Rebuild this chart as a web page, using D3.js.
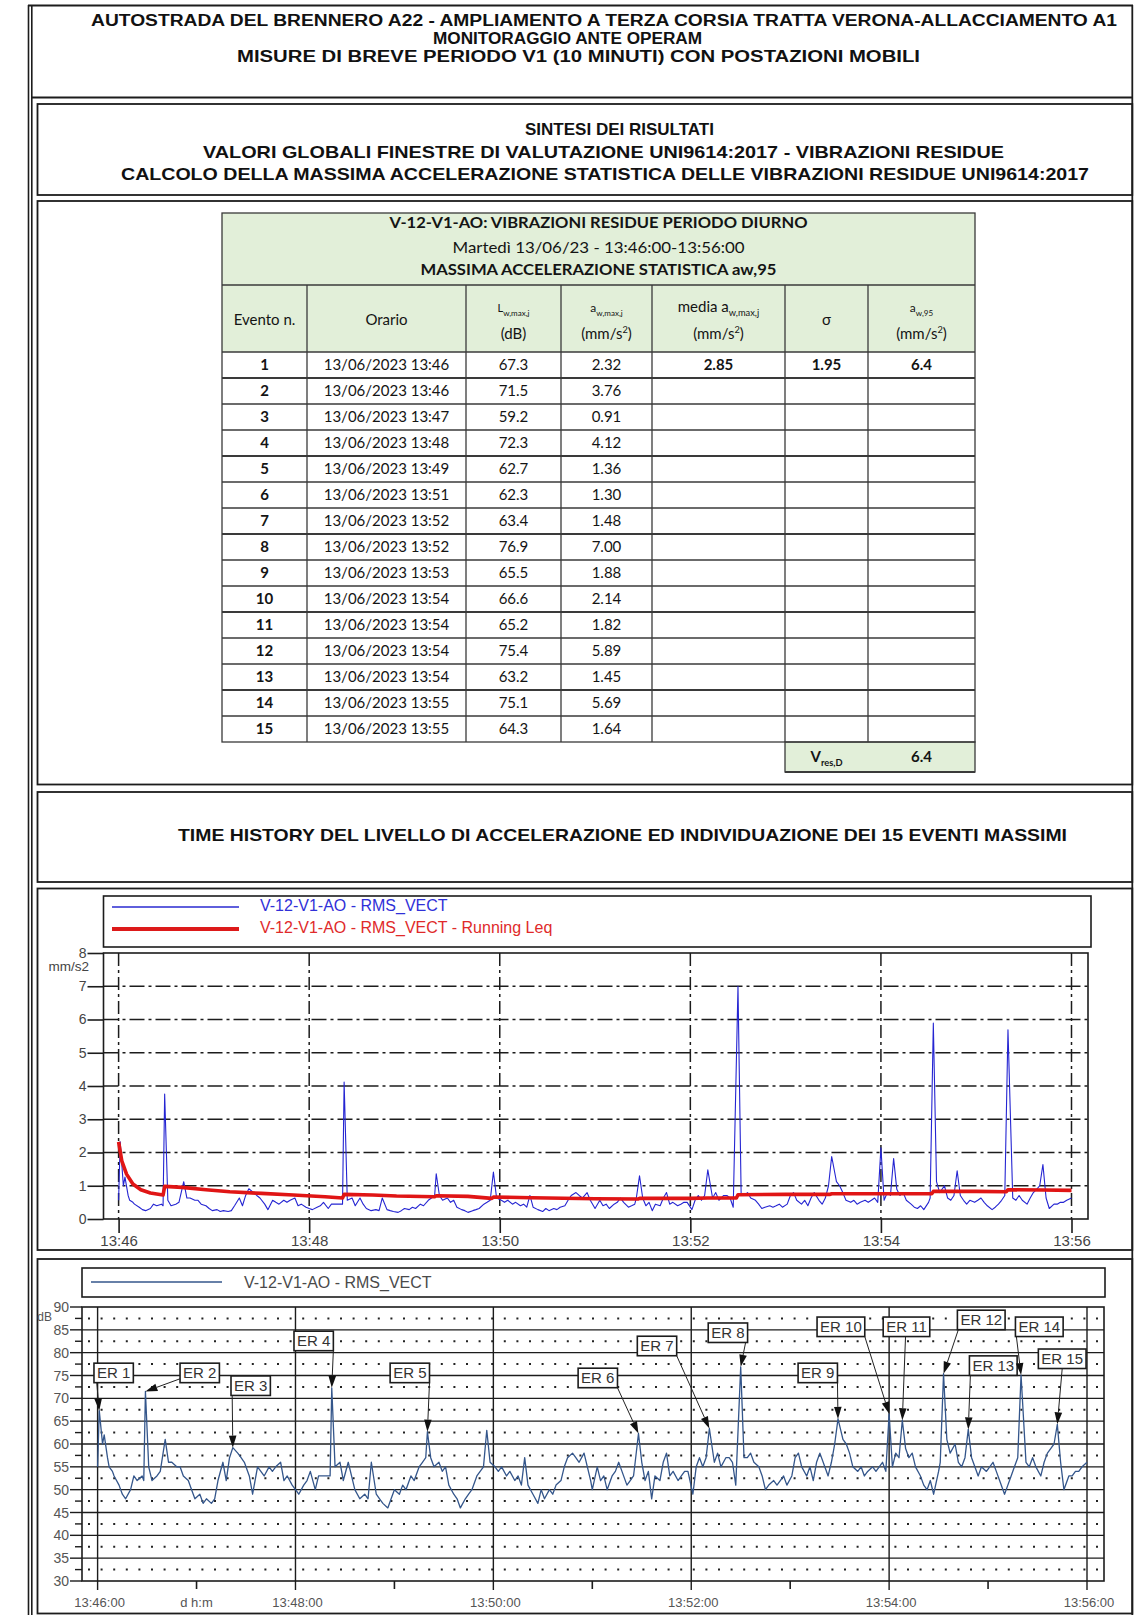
<!DOCTYPE html>
<html>
<head>
<meta charset="utf-8">
<title>V-12-V1-AO – Vibrazioni residue periodo diurno</title>
<script src="https://cdn.jsdelivr.net/npm/d3@7/dist/d3.min.js"></script>
<style>
  html, body { margin: 0; padding: 0; background: #fff; }
  svg { display: block; }
  text { font-family: "Liberation Sans", Arial, sans-serif; }
  .tbl text { font-family: Lato, "Open Sans", sans-serif; }
</style>
</head>
<body>
<svg id="page" width="1135" height="1615"></svg>
<script>
// ---------------- Event table (UNI 9614:2017) ----------------
const eventNo   = [1, 2, 3, 4, 5, 6, 7, 8, 9, 10, 11, 12, 13, 14, 15];
const eventTime = ["13/06/2023 13:46", "13/06/2023 13:46", "13/06/2023 13:47", "13/06/2023 13:48",
                   "13/06/2023 13:49", "13/06/2023 13:51", "13/06/2023 13:52", "13/06/2023 13:52",
                   "13/06/2023 13:53", "13/06/2023 13:54", "13/06/2023 13:54", "13/06/2023 13:54",
                   "13/06/2023 13:54", "13/06/2023 13:55", "13/06/2023 13:55"];
const eventLw   = [67.3, 71.5, 59.2, 72.3, 62.7, 62.3, 63.4, 76.9, 65.5, 66.6, 65.2, 75.4, 63.2, 75.1, 64.3];
const eventAw   = [2.32, 3.76, 0.91, 4.12, 1.36, 1.30, 1.48, 7.00, 1.88, 2.14, 1.82, 5.89, 1.45, 5.69, 1.64];
// seconds after 13:46:00 at which each event peak occurs
const eventSec  = [1, 29, 82, 142, 200, 328, 371, 390, 449, 480, 488, 513, 528, 560, 582];
const meanAw = 2.85, sigmaAw = 1.95, aw95 = 6.4, vResD = 6.4;

// ---------------- Time history RMS_VECT (dB re 1e-6 m/s2), between the event peaks ----------------
const rmsVect = [
  [0,55],[3,60],[4,62],[6,57],[7,55],[9,54],[10,53],[13,51],[15,49],[17,48],[20,50],[22,53],[24,52],[27,53],[28,52],
  [31,55],[33,52],[36,53],[38,54],[41,61],[43,56],[45,56],[48,55],[50,55],[52,53],[55,52],[57,50],[59,48],[62,49],
  [64,47],[66,48],[69,47],[71,48],[73,52],[76,56],[78,52],[80,57],[85,58],[87,57],[89,56],[92,53],[94,49],[97,55],
  [99,54],[101,53],[104,55],[106,54],[108,55],[111,56],[113,52],[115,53],[118,51],[120,50],[122,49],[125,51],
  [127,52],[129,54],[132,50],[134,53],[137,53],[139,53],[141,53],[144,55],[147,56],[149,52],[152,56],[154,53],
  [156,50],[159,48],[162,49],[164,48],[166,56],[169,49],[171,48],[173,47],[176,46],[178,48],[180,50],[183,49],
  [185,51],[187,50],[190,53],[192,52],[195,55],[197,56],[199,57],[202,57],[204,55],[207,56],[209,54],[211,55],
  [213,51],[216,49],[218,48],[220,46],[223,48],[225,49],[227,50],[230,53],[232,54],[234,55],[236,63],[238,56],
  [241,55],[243,54],[245,55],[248,53],[250,54],[253,52],[255,53],[257,51],[259,57],[261,51],[264,49],[267,47],
  [269,50],[271,48],[274,50],[276,49],[278,51],[281,52],[283,55],[285,57],[288,58],[290,57],[292,56],[295,58],
  [297,55],[299,52],[300,50],[303,55],[305,52],[307,53],[309,50],[312,53],[314,54],[316,56],[318,54],[321,51],
  [323,52],[325,53],[326,56],[330,56],[332,52],[334,54],[336,48],[338,53],[341,52],[343,56],[345,58],[347,53],
  [349,54],[352,52],[354,53],[356,54],[358,54],[361,49],[363,55],[365,57],[367,55],[369,57],[374,56],[376,58],
  [378,55],[381,57],[383,57],[385,56],[387,51],[392,57],[394,57],[396,58],[398,56],[401,55],[403,53],[405,50],
  [407,51],[410,52],[412,51],[414,52],[416,53],[418,51],[421,53],[423,57],[425,58],[427,55],[430,53],[432,55],
  [434,52],[436,56],[438,58],[441,55],[443,53],[445,56],[447,60],[452,61],[454,60],[456,58],[458,55],[461,54],
  [463,55],[465,53],[467,54],[470,55],[472,54],[474,55],[476,56],[478,54],[482,55],[484,58],[486,57],[490,59],
  [492,57],[494,58],[496,55],[499,53],[501,51],[503,50],[505,52],[507,49],[510,54],[511,56],[515,61],[517,58],
  [520,60],[522,56],[524,55],[526,57],[530,57],[532,55],[534,53],[536,55],[539,54],[541,55],[543,56],[545,54],
  [547,52],[550,49],[552,51],[554,53],[556,55],[558,57],[563,56],[565,55],[567,57],[569,55],[572,53],[574,56],
  [576,58],[578,59],[580,60],[584,56],[586,50],[589,53],[591,53],[593,54],[595,54],[597,55],[600,56]
];

// Running Leq of RMS_VECT (mm/s2)
const runningLeq = [
  [0,2.32],[2,1.75],[5,1.35],[9,1.05],[14,0.88],[20,0.78],[28,0.72],[29,0.98],[40,0.95],[55,0.88],[70,0.82],
  [90,0.77],[110,0.72],[130,0.67],[141,0.63],[142,0.74],[160,0.72],[175,0.69],[199,0.67],[200,0.70],[220,0.68],
  [235,0.62],[236,0.66],[260,0.64],[300,0.61],[327,0.60],[328,0.62],[360,0.62],[371,0.63],[389,0.63],[390,0.73],
  [420,0.74],[448,0.74],[449,0.76],[480,0.76],[512,0.76],[513,0.83],[540,0.83],[559,0.82],[560,0.88],[582,0.87],[600,0.86]
];

// Axis ticks
const accTicks   = [0, 1, 2, 3, 4, 5, 6, 7, 8];
const timeTickSec = [0, 120, 240, 360, 480, 600];
const timeLabelsHm  = ["13:46", "13:48", "13:50", "13:52", "13:54", "13:56"];
const timeLabelsHms = ["13:46:00", "13:48:00", "13:50:00", "13:52:00", "13:54:00", "13:56:00"];
const minorTickSec = [60, 180, 300, 420, 540];
const dbTicks  = [30, 35, 40, 45, 50, 55, 60, 65, 70, 75, 80, 85, 90];
const dbMinor  = [32.5, 37.5, 42.5, 47.5, 52.5, 57.5, 62.5, 67.5, 72.5, 77.5, 82.5, 87.5];

// ER label boxes: top-left corner placed in chart units [s, dB]; arrow leaves the box at [fx, fy]
const erLabelAt = [[-2.2,77.7],[50,77.7],[80.9,74.9],[119.1,84.7],[177.4,77.7],[291.4,76.6],[327.3,83.6],
                   [370.3,86.5],[424.8,77.7],[436.3,87.8],[476.4,87.8],[521.4,89.3],[528.7,79.3],[556.6,87.8],[570.5,80.8]];
const erArrowFrom = [[0.07,1],[0,0.8],[0.03,1],[1,1],[1,1],[1,1],[1,1],[0.95,1],[1,1],[1,1],[0.48,1],
                     [0.02,1],[0.02,1],[0.02,1],[0.5,1]];

// ======================================================================
const page = d3.select("#page");
const INK = "#1c1c1c";

function hline(g, x1, x2, y, w = 1.8, c = INK, dash = null) {
  const l = g.append("line").attr("x1", x1).attr("x2", x2).attr("y1", y).attr("y2", y)
    .attr("stroke", c).attr("stroke-width", w);
  if (dash) l.attr("stroke-dasharray", dash);
  return l;
}
function vline(g, x, y1, y2, w = 1.8, c = INK, dash = null) {
  const l = g.append("line").attr("x1", x).attr("x2", x).attr("y1", y1).attr("y2", y2)
    .attr("stroke", c).attr("stroke-width", w);
  if (dash) l.attr("stroke-dasharray", dash);
  return l;
}
function frame(g, x0, y0, x1, y1, w = 1.8, fill = "none") {
  return g.append("rect").attr("x", x0).attr("y", y0).attr("width", x1 - x0).attr("height", y1 - y0)
    .attr("fill", fill).attr("stroke", INK).attr("stroke-width", w);
}
// text fitted between x0 and x1
function fitted(g, x0, x1, y, str, size, weight = "bold") {
  return g.append("text").attr("x", x0).attr("y", y).attr("font-size", size).attr("font-weight", weight)
    .attr("fill", "#111").attr("textLength", x1 - x0).attr("lengthAdjust", "spacingAndGlyphs").text(str);
}

// ---------------- page frame and section boxes ----------------
const deco = page.append("g");
vline(deco, 28.5, 5, 1615, 1.6);
vline(deco, 31.8, 5, 1615, 1.6);
hline(deco, 28, 1133, 5.5, 1.8);
vline(deco, 1132.3, 5, 1615, 1.8);
hline(deco, 31, 1133, 97.5, 1.8);
[[104, 195], [201, 784.5], [792, 882], [888.5, 1250], [1259, 1613.5]].forEach(([a, b]) =>
  frame(deco, 37.5, a, 1132.3, b, 1.8));

// headings
fitted(deco, 91, 1117, 26, "AUTOSTRADA DEL BRENNERO A22 - AMPLIAMENTO A TERZA CORSIA TRATTA VERONA-ALLACCIAMENTO A1", 16);
fitted(deco, 433, 702, 44, "MONITORAGGIO ANTE OPERAM", 16);
fitted(deco, 237, 920, 62, "MISURE DI BREVE PERIODO V1 (10 MINUTI) CON POSTAZIONI MOBILI", 16);
fitted(deco, 525, 714, 135, "SINTESI DEI RISULTATI", 17);
fitted(deco, 203, 1004, 158, "VALORI GLOBALI FINESTRE DI VALUTAZIONE UNI9614:2017 - VIBRAZIONI RESIDUE", 17);
fitted(deco, 121, 1089, 180, "CALCOLO DELLA MASSIMA ACCELERAZIONE STATISTICA DELLE VIBRAZIONI RESIDUE UNI9614:2017", 17);
fitted(deco, 178, 1067, 841, "TIME HISTORY DEL LIVELLO DI ACCELERAZIONE ED INDIVIDUAZIONE DEI 15 EVENTI MASSIMI", 17);

// ---------------- table ----------------
const tbl = page.append("g").attr("class", "tbl");
const cx = [222, 307, 466, 561, 652, 785, 868, 975];
const tTop = 213, hTop = 285, hBot = 352, rowH = 26;
const rowsBot = hBot + rowH * eventNo.length;
const GREEN = "#e2efd9";
const LINE = "#3a3a3a";

tbl.append("rect").attr("x", cx[0]).attr("y", tTop).attr("width", cx[7] - cx[0]).attr("height", hBot - tTop)
  .attr("fill", GREEN);
tbl.append("rect").attr("x", cx[5]).attr("y", rowsBot).attr("width", cx[7] - cx[5]).attr("height", 30)
  .attr("fill", GREEN);

function cellText(x, y, str, opts = {}) {
  return tbl.append("text").attr("x", x).attr("y", y).attr("text-anchor", "middle")
    .attr("font-size", opts.size || 15).attr("font-weight", opts.bold ? 700 : 400)
    .attr("fill", "#141414").text(str);
}
// text made of normal / sub / sup runs
function richText(x, y, parts, size = 15, bold = false) {
  const t = tbl.append("text").attr("x", x).attr("y", y).attr("text-anchor", "middle")
    .attr("font-size", size).attr("font-weight", bold ? 700 : 400).attr("fill", "#141414");
  let shift = 0;
  parts.forEach(p => {
    const target = p.sub ? size * 0.28 : p.sup ? -size * 0.38 : 0;
    const ts = t.append("tspan").attr("dy", target - shift).text(p.t);
    if (p.sub || p.sup) ts.attr("font-size", size * 0.62);
    if (p.fs) ts.attr("font-size", p.fs);
    shift = target;
  });
  return t;
}

// title band
const tmid = (cx[0] + cx[7]) / 2;
function fittedMid(y, str, w, bold) {
  return tbl.append("text").attr("x", tmid - w / 2).attr("y", y).attr("font-size", 15)
    .attr("font-weight", bold ? 700 : 400).attr("fill", "#141414")
    .attr("textLength", w).attr("lengthAdjust", "spacingAndGlyphs").text(str);
}
fittedMid(228, "V-12-V1-AO: VIBRAZIONI RESIDUE PERIODO DIURNO", 418, true);
fittedMid(253, "Martedì 13/06/23 - 13:46:00-13:56:00", 292, false);
fittedMid(275, "MASSIMA ACCELERAZIONE STATISTICA aw,95", 356, true);

// column headers
const mid = i => (cx[i] + cx[i + 1]) / 2;
cellText(mid(0), 325, "Evento n.");
cellText(mid(1), 325, "Orario");
richText(mid(2), 312, [{t: "L", fs: 11}, {t: "w,max,j", sub: true}], 13);
cellText(mid(2), 339, "(dB)");
richText(mid(3), 312, [{t: "a", fs: 12}, {t: "w,max,j", sub: true}], 13);
richText(mid(3), 339, [{t: "(mm/s"}, {t: "2", sup: true}, {t: ")"}]);
richText(mid(4), 312, [{t: "media a"}, {t: "w,max,j", sub: true}], 15);
richText(mid(4), 339, [{t: "(mm/s"}, {t: "2", sup: true}, {t: ")"}]);
cellText(mid(5), 325, "σ");
richText(mid(6), 312, [{t: "a", fs: 12}, {t: "w,95", sub: true}], 13);
richText(mid(6), 339, [{t: "(mm/s"}, {t: "2", sup: true}, {t: ")"}]);

// rows
eventNo.forEach((n, i) => {
  const yb = hBot + rowH * i + 17.5;
  cellText(mid(0), yb, n, {bold: true});
  cellText(mid(1), yb, eventTime[i]);
  cellText(mid(2), yb, eventLw[i].toFixed(1));
  cellText(mid(3), yb, eventAw[i].toFixed(2));
  if (i === 0) {
    cellText(mid(4), yb, meanAw.toFixed(2), {bold: true});
    cellText(mid(5), yb, sigmaAw.toFixed(2), {bold: true});
    cellText(mid(6), yb, aw95.toFixed(1), {bold: true});
  }
});
richText(mid(5), rowsBot + 20, [{t: "V"}, {t: "res,D", sub: true}], 15, true);
cellText(mid(6), rowsBot + 19.5, vResD.toFixed(1), {bold: true});

// grid lines of the table
tbl.append("rect").attr("x", cx[0]).attr("y", tTop).attr("width", cx[7] - cx[0]).attr("height", rowsBot - tTop)
  .attr("fill", "none").attr("stroke", LINE).attr("stroke-width", 1.3);
hline(tbl, cx[0], cx[7], hTop, 1.3, LINE);
for (let i = 0; i < eventNo.length; i++) hline(tbl, cx[0], cx[7], hBot + rowH * i, i % 3 === 1 ? 2 : 1.3, LINE);
for (let j = 1; j < 7; j++) vline(tbl, cx[j], hTop, rowsBot, 1.3, LINE);
tbl.append("rect").attr("x", cx[5]).attr("y", rowsBot).attr("width", cx[7] - cx[5]).attr("height", 30)
  .attr("fill", "none").attr("stroke", LINE).attr("stroke-width", 1.3);
hline(tbl, cx[5], cx[7], rowsBot + 30, 2.2, LINE);

// ---------------- chart 1: acceleration (mm/s2) ----------------
const c1 = page.append("g");
const x1 = d3.scaleLinear().domain([0, 600]).range([118.6, 1071.5]);
const y1 = d3.scaleLinear().domain([0, 8]).range([1219, 953]);
const c1L = 103.5, c1R = 1088;

// legend
frame(c1, 103.5, 896, 1091, 947, 1.6);
hline(c1, 112, 239, 907, 1.4, "#2a2ad0");
hline(c1, 112, 239, 929, 4, "#dd1a1a");
c1.append("text").attr("x", 260).attr("y", 911).attr("font-size", 16).attr("fill", "#3030d8")
  .text("V-12-V1-AO - RMS_VECT");
c1.append("text").attr("x", 260).attr("y", 933).attr("font-size", 16).attr("fill", "#e02a2a")
  .text("V-12-V1-AO - RMS_VECT - Running Leq");

// grid
const DASHDOT = "15,4,3,4";
accTicks.filter(v => v > 0 && v < 8).forEach(v => hline(c1, c1L, c1R, y1(v), 1.5, INK, DASHDOT));
timeTickSec.forEach(s => vline(c1, x1(s), 953, 1219, 1.5, INK, "13,4,3,4"));
frame(c1, c1L, 953, c1R, 1219, 1.6);

// axes
const ax1 = c1.append("g").attr("transform", `translate(${c1L},0)`)
  .call(d3.axisLeft(y1).tickValues(accTicks).tickSize(16).tickSizeOuter(0).tickPadding(1));
ax1.select(".domain").remove();
ax1.selectAll("line").attr("stroke", INK).attr("stroke-width", 1.6);
ax1.selectAll("text").attr("font-size", 14).attr("fill", "#444").attr("font-family", "Liberation Sans, Arial, sans-serif");
c1.append("text").attr("x", 89).attr("y", 971).attr("text-anchor", "end").attr("font-size", 13.5)
  .attr("fill", "#444").text("mm/s2");

const bx1 = c1.append("g").attr("transform", "translate(0,1219)")
  .call(d3.axisBottom(x1).tickValues(timeTickSec).tickSize(14).tickSizeOuter(0)
    .tickFormat((d, i) => timeLabelsHm[i]));
bx1.select(".domain").remove();
bx1.selectAll("line").attr("stroke", INK).attr("stroke-width", 1.6);
bx1.selectAll("text").attr("y", 16).attr("font-size", 15).attr("fill", "#444")
  .attr("font-family", "Liberation Sans, Arial, sans-serif");

// series: RMS_VECT converted to mm/s2 (a = 10^(L/20) um/s2), event peaks from the table
const seriesDb = rmsVect.map(d => ({s: d[0], db: d[1], acc: Math.pow(10, d[1] / 20) / 1000}))
  .concat(eventSec.map((s, i) => ({s, db: eventLw[i], acc: eventAw[i]})))
  .sort((a, b) => a.s - b.s);

c1.append("path").datum(seriesDb).attr("fill", "none").attr("stroke", "#2525d2").attr("stroke-width", 1.1)
  .attr("stroke-linejoin", "round")
  .attr("d", d3.line().x(d => x1(d.s)).y(d => y1(d.acc)));
c1.append("path").datum(runningLeq).attr("fill", "none").attr("stroke", "#e01515").attr("stroke-width", 3.6)
  .attr("stroke-linejoin", "round")
  .attr("d", d3.line().x(d => x1(d[0])).y(d => y1(d[1])));

// ---------------- chart 2: level (dB) with the 15 events ----------------
const c2 = page.append("g");
const x2 = d3.scaleLinear().domain([0, 600]).range([97.6, 1087]);
const y2 = d3.scaleLinear().domain([30, 90]).range([1581, 1307]);
const c2L = 82, c2R = 1104;

frame(c2, 82, 1268, 1105, 1297, 1.6);
hline(c2, 91, 222, 1282, 1.5, "#34568b");
c2.append("text").attr("x", 244).attr("y", 1288).attr("font-size", 16).attr("fill", "#4a4a4a")
  .text("V-12-V1-AO - RMS_VECT");

dbMinor.forEach(v => hline(c2, c2L + 6, c2R, y2(v), 2, "#222", "2,10.6"));
dbTicks.filter(v => v > 30 && v < 90).forEach(v => hline(c2, c2L, c2R, y2(v), 1.4, INK));
timeTickSec.forEach(s => vline(c2, x2(s), 1307, 1590, 1.4, INK));
minorTickSec.forEach(s => vline(c2, x2(s), 1581, 1589, 1.6, INK));
frame(c2, c2L, 1307, c2R, 1581, 1.6);

dbTicks.forEach(v => hline(c2, 70, c2L, y2(v), 1.4, INK));
dbMinor.forEach(v => hline(c2, 75, c2L, y2(v), 1.4, INK));
const yl2 = c2.append("g");
dbTicks.forEach(v => yl2.append("text").attr("x", 69).attr("y", y2(v) + 5).attr("text-anchor", "end")
  .attr("font-size", 14).attr("fill", "#555").text(v));
c2.append("text").attr("x", 52).attr("y", 1321).attr("text-anchor", "end").attr("font-size", 12)
  .attr("fill", "#555").text("dB");
timeTickSec.forEach((s, i) => c2.append("text").attr("x", x2(s) + 2).attr("y", 1606.5)
  .attr("text-anchor", "middle").attr("font-size", 13).attr("fill", "#555").text(timeLabelsHms[i]));
c2.append("text").attr("x", x2(minorTickSec[0])).attr("y", 1606.5).attr("text-anchor", "middle")
  .attr("font-size", 13).attr("fill", "#555").text("d h:m");

c2.append("path").datum(seriesDb).attr("fill", "none").attr("stroke", "#34568b").attr("stroke-width", 1.3)
  .attr("stroke-linejoin", "round")
  .attr("d", d3.line().x(d => x2(d.s)).y(d => y2(d.db)));

// ER annotations
const er = c2.append("g");
eventNo.forEach((n, i) => {
  const bx = x2(erLabelAt[i][0]), by = y2(erLabelAt[i][1]);
  const label = er.append("text").attr("font-size", 15).attr("fill", "#333").text("ER " + n);
  const w = label.node().getComputedTextLength() + 6, h = 19.5;
  label.attr("x", bx + w / 2).attr("y", by + 15).attr("text-anchor", "middle");
  er.insert("rect", "text").attr("x", bx).attr("y", by).attr("width", w).attr("height", h)
    .attr("fill", "#fff").attr("stroke", INK).attr("stroke-width", 1.6);
  const sx = bx + erArrowFrom[i][0] * w, sy = by + erArrowFrom[i][1] * h;
  const tx = x2(eventSec[i]), ty = y2(eventLw[i]);
  const ang = Math.atan2(ty - sy, tx - sx), L = 12, hw = 3.8;
  const bxh = tx - L * Math.cos(ang), byh = ty - L * Math.sin(ang);
  er.append("line").attr("x1", sx).attr("y1", sy).attr("x2", bxh).attr("y2", byh)
    .attr("stroke", "#222").attr("stroke-width", 1);
  er.append("path").attr("fill", "#111")
    .attr("d", `M${tx},${ty}L${bxh + hw * Math.sin(ang)},${byh - hw * Math.cos(ang)}L${bxh - hw * Math.sin(ang)},${byh + hw * Math.cos(ang)}Z`);
});
</script>
</body>
</html>
